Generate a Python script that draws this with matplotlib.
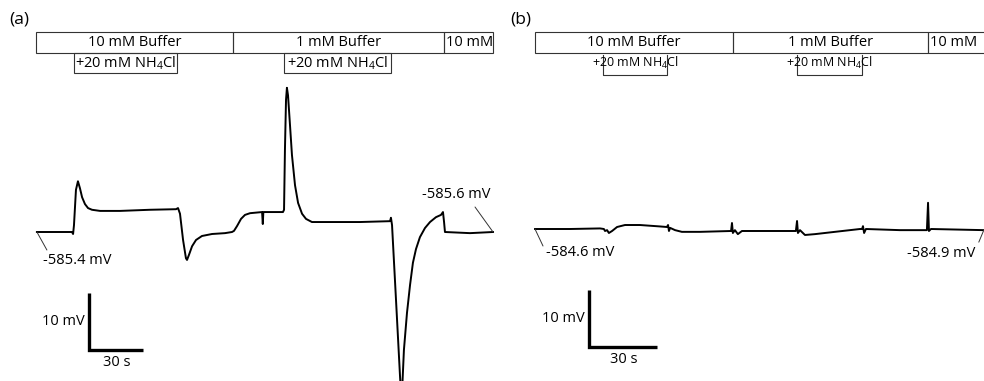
import matplotlib
matplotlib.use("Agg")
import matplotlib.pyplot as plt
import matplotlib.transforms as mtransforms
from matplotlib.patches import Rectangle

plt.rcParams['font.family'] = ['Open Sans', 'DejaVu Sans']
plt.rcParams['mathtext.default'] = 'regular'

# === Data: time (s) and deflection from start potential (mV) ===
t_a = [0.5, 10.6, 20.0, 20.6, 21.1, 22.2, 23.3, 24.4, 25.6, 27.2, 28.9, 31.1, 35.6, 46.7, 63.3,
       77.8, 78.9, 80.0, 81.7, 83.3, 83.9, 85.0, 86.7, 88.9, 92.2, 97.8, 105.0, 108.9, 110.0,
       111.7, 113.9, 116.1, 118.9, 125.6, 126.0, 126.3, 137.2, 137.8, 138.3, 138.9, 139.4, 140.0,
       141.1, 142.2, 143.9, 145.6, 147.8, 150.0, 153.3, 163.3, 180.0, 196.7, 197.2, 197.8, 200.0,
       202.2, 202.8, 203.3, 204.4, 206.1, 207.8, 209.4, 211.1, 213.3, 216.1, 218.9, 222.2, 225.0,
       226.1, 226.7, 227.2, 241.1, 253.9]
v_a = [0, 0, 0, -0.35, 1.2, 7.4, 8.9, 7.7, 6.1, 4.9, 4.2, 3.9, 3.7, 3.7, 3.9,
       4.0, 4.2, 3.2, -1.4, -4.6, -4.9, -4.0, -2.5, -1.4, -0.7, -0.35, -0.2, 0, 0.2,
       1.05, 2.3, 3.0, 3.3, 3.5, 1.4, 3.5, 3.5, 3.9, 14.4, 23.2, 25.3, 24.0,
       18.8, 13.5, 8.2, 5.1, 3.2, 2.3, 1.75, 1.75, 1.75, 1.9, 2.5, 1.2, -11.9,
       -25.1, -28.5, -28.5, -20.7, -14.2, -9.3, -5.4, -3.0, -0.9, 0.7, 1.75, 2.6, 3.0,
       3.5, 1.75, 0, -0.2, 0]

t_b = [0, 15.4, 28.7, 30.4, 30.9, 31.8, 32.6, 34.0, 36.2, 39.7, 46.3, 55.1, 58.2, 58.7, 59.1,
       59.6, 61.8, 64.8, 72.8, 86.5, 86.9, 87.3, 88.2, 89.5, 91.3, 103.7, 115.1, 115.6, 116.0,
       116.9, 119.1, 123.5, 132.3, 143.4, 144.3, 144.7, 145.2, 146.0, 161.0, 172.9, 173.4, 173.8,
       174.7, 198.0]
v_b = [0, 0, 0.1, 0, -0.35, -0.2, -0.7, -0.35, 0.35, 0.7, 0.7, 0.45, 0.35, 0.7, -0.35,
       0.2, -0.2, -0.5, -0.5, -0.35, 1.05, -0.7, -0.2, -0.9, -0.35, -0.35, -0.35, 1.4, -0.7,
       -0.2, -1.05, -0.9, -0.5, 0, 0, 0.5, -0.7, 0, -0.2, -0.2, 4.6, -0.35,
       0, -0.2]

# solution segments (s)
buffer_a = [(0, 109.4, "10 mM Buffer"), (109.4, 226.7, "1 mM Buffer"), (226.7, 254.0, "10 mM")]
nh4_a = [(21.1, 78.3), (137.8, 197.2)]
buffer_b = [(0, 87.3, "10 mM Buffer"), (87.3, 173.4, "1 mM Buffer"), (173.4, 215.0, "10 mM")]
nh4_b = [(30.0, 58.2), (115.6, 144.2)]

start_a, end_a = "-585.4 mV", "-585.6 mV"
start_b, end_b = "-584.6 mV", "-584.9 mV"

W, H = 984, 381
FS = 10.5
fig = plt.figure(figsize=(W / 100, H / 100), dpi=100)

# panel geometry in pixels: (left px, width px, trace origin x px, baseline y px, px per s, px per mV)
panels = {
    "a": (0, 500, 36, 232, 1.8, 5.7),
    "b": (500, 484, 535, 229, 68 / 30, 5.7),
}

def make_ax(key):
    left, width, x0, y0, pps, ppm = panels[key]
    ax = fig.add_axes([left / W, 0, width / W, 1])
    ax.set_xlim((left - x0) / pps, (left + width - x0) / pps)
    ax.set_ylim((y0 - H) / ppm, y0 / ppm)
    ax.axis("off")
    return ax

def yf(px):
    return 1 - px / H

def draw_buffers(ax, segs):
    tr = mtransforms.blended_transform_factory(ax.transData, ax.transAxes)
    for s, e, label in segs:
        ax.add_patch(Rectangle((s, yf(53)), e - s, yf(32) - yf(53), transform=tr,
                               facecolor="none", edgecolor="#333333", lw=0.8))
        if label == "10 mM":
            ax.annotate(label, (s, yf(42.5)), xycoords=tr, xytext=(2, 0),
                        textcoords="offset pixels", ha="left", va="center", fontsize=FS)
        else:
            ax.text((s + e) / 2, yf(42.5), label, transform=tr, ha="center", va="center",
                    fontsize=FS)

def scale_bar(ax, t0, v0):
    ax.plot([t0, t0, t0 + 30], [v0 + 10, v0, v0], color="black", lw=2.4,
            solid_joinstyle="miter", solid_capstyle="butt")
    ax.annotate("10 mV", (t0, v0 + 5), xytext=(-4, 0), textcoords="offset pixels",
                ha="right", va="center", fontsize=FS)
    ax.annotate("30 s", (t0 + 15, v0), xytext=(1, -5), textcoords="offset pixels",
                ha="center", va="top", fontsize=FS)

def end_label(ax, xy, text, line_off, text_off):
    ax.annotate("", xy=xy, xytext=line_off, textcoords="offset pixels",
                arrowprops=dict(arrowstyle="-", lw=0.7, color="#333333", shrinkA=0, shrinkB=0))
    ax.annotate(text, xy, xytext=text_off, textcoords="offset pixels",
                ha="center", va="center", fontsize=FS)

# === Panel (a) ===
ax_a = make_ax("a")
ax_a.plot(t_a, v_a, color="black", lw=1.4)
draw_buffers(ax_a, buffer_a)
tr_a = mtransforms.blended_transform_factory(ax_a.transData, ax_a.transAxes)
for s, e in nh4_a:
    ax_a.add_patch(Rectangle((s, yf(73)), e - s, yf(53) - yf(73), transform=tr_a,
                             facecolor="none", edgecolor="#333333", lw=0.8))
    ax_a.text((s + e) / 2, yf(63), "+20 mM NH$_4$Cl", transform=tr_a,
              ha="center", va="center", fontsize=FS)
scale_bar(ax_a, 29.4, -20.7)
end_label(ax_a, (t_a[0], v_a[0]), start_a, (10, -18), (40, -28))
end_label(ax_a, (t_a[-1], v_a[-1]), end_a, (-18, 25), (-37, 37))

# === Panel (b) ===
ax_b = make_ax("b")
ax_b.plot(t_b, v_b, color="black", lw=1.4)
draw_buffers(ax_b, buffer_b)
tr_b = mtransforms.blended_transform_factory(ax_b.transData, ax_b.transAxes)
for s, e in nh4_b:
    ax_b.plot([s, s, e, e], [yf(55), yf(75), yf(75), yf(55)], transform=tr_b,
              color="#333333", lw=0.8)
    ax_b.text((s + e) / 2, yf(63), "+20 mM NH$_4$Cl", transform=tr_b,
              ha="center", va="center", fontsize=9)
scale_bar(ax_b, 23.8, -20.7)
end_label(ax_b, (t_b[0], v_b[0]), start_b, (8, -17), (45, -23))
end_label(ax_b, (t_b[-1], v_b[-1]), end_b, (-5, -12), (-43, -23))

fig.text(19 / W, yf(20), "(a)", ha="center", va="center", fontsize=12.5)
fig.text(521 / W, yf(20), "(b)", ha="center", va="center", fontsize=12.5)

fig.savefig("out.png", dpi=100)
